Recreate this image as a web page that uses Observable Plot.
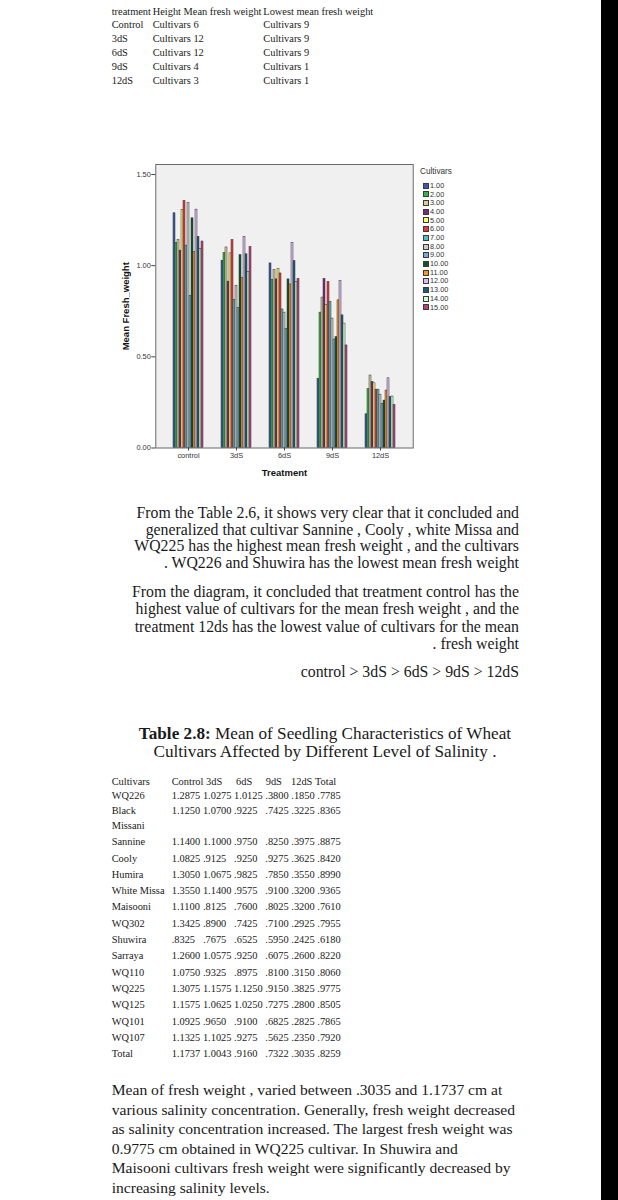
<!DOCTYPE html>
<html><head><meta charset="utf-8">
<script src="https://cdn.jsdelivr.net/npm/d3@7"></script>
<script src="https://cdn.jsdelivr.net/npm/@observablehq/plot@0.6"></script>
<style>
html,body{margin:0;padding:0;background:#fff;}
body{width:618px;height:1200px;position:relative;overflow:hidden;font-family:"Liberation Serif","Times New Roman",serif;color:#1a1a1a;}
.t{position:absolute;white-space:pre;line-height:1;}
.sans{font-family:"Liberation Sans",Arial,sans-serif;}
#chart{position:absolute;left:90px;top:160px;}
#chart svg g[aria-label="y-axis label"] text,
#chart svg g[aria-label="fx-axis label"] text{font-weight:bold;font-size:9.5px;fill:#111;}
.sw{position:absolute;width:6px;height:6px;box-sizing:border-box;border:1px solid #3a3a3a;}
</style></head><body>
<div id="chart"></div>
<script>
// ---------- data ----------
const treatments = ["control", "3dS", "6dS", "9dS", "12dS"];
const cultivarCodes = ["1.00","2.00","3.00","4.00","5.00","6.00","7.00","8.00","9.00","10.00","11.00","12.00","13.00","14.00","15.00"];
const cultivarNames = ["WQ226","Black Missani","Sannine","Cooly","Humira","White Missa","Maisooni","WQ302","Shuwira","Sarraya","WQ110","WQ225","WQ125","WQ101","WQ107"];
const controlValues = [1.2875,1.1250,1.1400,1.0825,1.3050,1.3550,1.1100,1.3425,0.8325,1.2600,1.0750,1.3075,1.1575,1.0925,1.1325];
const dS3Values     = [1.0275,1.0700,1.1000,0.9125,1.0675,1.1400,0.8125,0.8900,0.7675,1.0575,0.9325,1.1575,1.0625,0.9650,1.1025];
const dS6Values     = [1.0125,0.9225,0.9750,0.9250,0.9825,0.9575,0.7600,0.7425,0.6525,0.9250,0.8975,1.1250,1.0250,0.9100,0.9275];
const dS9Values     = [0.3800,0.7425,0.8250,0.9275,0.7850,0.9100,0.8025,0.7100,0.5950,0.6075,0.8100,0.9150,0.7275,0.6825,0.5625];
const dS12Values    = [0.1850,0.3225,0.3975,0.3625,0.3550,0.3200,0.3200,0.2925,0.2425,0.2600,0.3150,0.3825,0.2800,0.2825,0.2350];
const totalValues   = [0.7785,0.8365,0.8875,0.8420,0.8990,0.9365,0.7610,0.7955,0.6180,0.8220,0.8060,0.9775,0.8505,0.7865,0.7920];
const treatmentTotals = [1.1737,1.0043,0.9160,0.7322,0.3035,0.8259];
const yTicks = [0, 0.5, 1, 1.5];
const cultivarColors = ["#3e58ac","#2eb848","#d3ce97","#7c287d","#fbf873","#ef3338","#48c2c5","#cccccc","#7aaad5","#0a562c","#f8981d","#ddbaf1","#1a5f76","#ccffcc","#bb3f7f"];

const summaryTreatments = ["Control","3dS","6dS","9dS","12dS"];
const summaryHighest = ["Cultivars 6","Cultivars 12","Cultivars 12","Cultivars 4","Cultivars 3"];
const summaryLowest = ["Cultivars 9","Cultivars 9","Cultivars 9","Cultivars 1","Cultivars 1"];
const tableHeader = ["Control","3dS","6dS","9dS","12dS","Total"];

const para1 = ["From the Table 2.6, it shows very clear that it concluded and",
  "generalized that cultivar Sannine , Cooly , white Missa and",
  "WQ225 has the highest mean fresh weight , and the cultivars",
  ". WQ226 and Shuwira has the lowest mean fresh weight"];
const para2 = ["From the diagram, it concluded that treatment control has the",
  "highest value of cultivars for the mean fresh weight , and the",
  "treatment 12ds has the lowest value of cultivars for the mean",
  ". fresh weight"];
const orderLine = "control > 3dS > 6dS > 9dS > 12dS";
const para3 = ["Mean of fresh weight , varied between .3035 and 1.1737 cm at",
  "various salinity concentration. Generally, fresh weight decreased",
  "as salinity concentration increased. The largest fresh weight was",
  "0.9775 cm obtained in WQ225 cultivar. In Shuwira and",
  "Maisooni cultivars fresh weight were significantly decreased by",
  "increasing salinity levels."];

// ---------- helpers ----------
function put(text, x, yc, size, cls = "", extra = {}) {
  const d = document.createElement("div");
  d.className = "t " + cls;
  d.textContent = text;
  d.style.fontSize = size + "px";
  d.style.top = (yc - size * 0.52) + "px";
  if (extra.right !== undefined) { d.style.right = (618 - extra.right) + "px"; d.style.textAlign = "right"; }
  else d.style.left = x + "px";
  if (extra.color) d.style.color = extra.color;
  document.body.appendChild(d);
  return d;
}
const fmt = v => { const s = v.toFixed(4); return v < 1 ? s.slice(1) : s; };

// right black strip
const strip = document.createElement("div");
Object.assign(strip.style, {position:"absolute", left:"601px", top:"0", width:"17px", height:"1200px", background:"#000"});
document.body.appendChild(strip);

// ---------- top summary table ----------
const topSize = 10.4;
put("treatment", 111.7, 12.7, topSize);
put("Height Mean fresh weight", 152.7, 12.7, topSize);
put("Lowest mean fresh weight", 263.3, 12.7, topSize);
summaryTreatments.forEach((t, i) => {
  const y = 25.8 + i * 13.8;
  put(t, 111.7, y, topSize);
  put(summaryHighest[i], 152.7, y, topSize);
  put(summaryLowest[i], 263.3, y, topSize);
});

// ---------- chart ----------
const seriesByTreatment = [controlValues, dS3Values, dS6Values, dS9Values, dS12Values];
const data = [];
treatments.forEach((t, ti) => cultivarCodes.forEach((c, ci) =>
  data.push({treatment: t, cultivar: c, value: seriesByTreatment[ti][ci]})));

const W = 330, H = 330, mL = 63, mR = 5, mT = 4, mB = 42.5;
const padIn = 0.16, padOut = 0.26;
const step = (W - mL - mR) / (treatments.length - padIn + 2 * padOut);
const outerGap = padOut * step; // distance from frame edge to first facet

const chart = Plot.plot({
  width: W, height: H,
  marginLeft: mL, marginRight: mR, marginTop: mT, marginBottom: mB,
  style: {background: "transparent", fontFamily: "'Liberation Sans', Arial, sans-serif", fontSize: "7.4px", color: "#333", overflow: "visible"},
  fx: {domain: treatments, paddingInner: padIn, paddingOuter: padOut},
  x: {domain: cultivarCodes, padding: 0, axis: null},
  y: {domain: [0, 1.555]},
  color: {domain: cultivarCodes, range: cultivarColors},
  marks: [
    Plot.frame({fill: "#f0f0f0", stroke: "none", facet: "super", insetLeft: -outerGap, insetRight: -outerGap}),
    Plot.barY(data, {fx: "treatment", x: "cultivar", y: "value", fill: "cultivar", stroke: "#333", strokeWidth: 0.5}),
    Plot.frame({stroke: "#6a6a6a", strokeWidth: 1, facet: "super", insetLeft: -outerGap, insetRight: -outerGap}),
    Plot.axisY({ticks: yTicks, tickFormat: d3.format(".2f"), tickSize: 4, tickPadding: 1, stroke: "#444", dx: -outerGap,
      label: "Mean Fresh_weight", labelAnchor: "center", labelArrow: false, labelOffset: 33.5 + outerGap}),
    Plot.axisFx({anchor: "bottom", tickSize: 3, tickPadding: 1.5, stroke: "#444",
      label: "Treatment", labelAnchor: "center", labelArrow: false, labelOffset: 28})
  ]
});
document.getElementById("chart").appendChild(chart);

// legend
put("Cultivars", 420, 172, 8.2, "sans", {color: "#333"});
cultivarCodes.forEach((c, i) => {
  const y = 185.7 + i * 8.69;
  const s = document.createElement("div");
  s.className = "sw";
  s.style.left = "423px"; s.style.top = (y - 3) + "px"; s.style.background = cultivarColors[i];
  document.body.appendChild(s);
  put(c, 430, y, 7.3, "sans", {color: "#333"});
});

// ---------- paragraphs ----------
const pSize = 15.8;
para1.forEach((line, i) => put(line, 0, 513.3 + i * 16.7, pSize, "", {right: 519}));
para2.forEach((line, i) => put(line, 0, 592.3 + i * 17.3, pSize, "", {right: 519}));
put(orderLine, 0, 672.3, pSize, "", {right: 519});

// title
const title1 = put("", 0, 734, 17.2, "");
title1.style.left = "75px"; title1.style.width = "500px"; title1.style.textAlign = "center";
title1.innerHTML = "<b>Table 2.8:</b> Mean of Seedling Characteristics of Wheat";
const title2 = put("Cultivars Affected by Different Level of Salinity .", 0, 751.7, 17.2, "");
title2.style.left = "75px"; title2.style.width = "500px"; title2.style.textAlign = "center";

// ---------- data table ----------
const tSize = 10.4;
const colLefts = [171.7, 202.9, 234.1, 265.3, 291.3, 317.3];
const headLefts = [171.7, 206, 236, 265.7, 291, 315];
put("Cultivars", 111.7, 782.7, tSize);
tableHeader.forEach((h, j) => put(h, headLefts[j], 782.7, tSize));
const rowY = [];
let yy = 796.7;
cultivarNames.forEach((n, i) => {
  if (i === 0) yy = 796.7;
  else if (i === 1) yy = 811.7;
  else if (i === 2) yy = 842.7;
  else yy += 16.3;
  rowY.push(yy);
});
cultivarNames.forEach((n, i) => {
  const y = rowY[i];
  if (n === "Black Missani") { put("Black", 111.7, y, tSize); put("Missani", 111.7, y + 15, tSize); }
  else put(n, 111.7, y, tSize);
  const vals = [controlValues[i], dS3Values[i], dS6Values[i], dS9Values[i], dS12Values[i], totalValues[i]];
  vals.forEach((v, j) => put(fmt(v), colLefts[j], y, tSize));
});
const totalY = rowY[rowY.length - 1] + 16.3;
put("Total", 111.7, totalY, tSize);
treatmentTotals.forEach((v, j) => put(fmt(v), colLefts[j], totalY, tSize));

// ---------- final paragraph ----------
para3.forEach((line, i) => put(line, 111.7, 1090 + i * 19.65, 15.6));
</script>
</body></html>
